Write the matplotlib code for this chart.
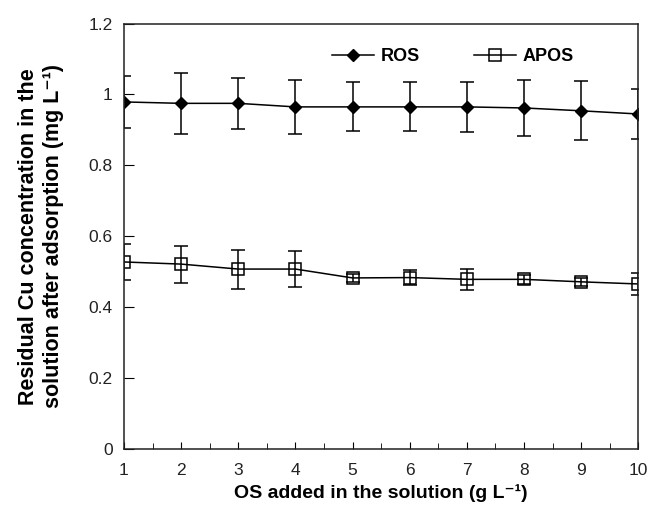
import matplotlib.pyplot as plt
from matplotlib.lines import Line2D
from matplotlib.ticker import MultipleLocator

plt.rcParams['font.family'] = ['Liberation Sans', 'DejaVu Sans']

# data
os_dose = [1, 2, 3, 4, 5, 6, 7, 8, 9, 10]
ros = [0.979, 0.975, 0.975, 0.965, 0.965, 0.965, 0.965, 0.962, 0.954, 0.945]
ros_err = [0.073, 0.085, 0.072, 0.075, 0.069, 0.069, 0.071, 0.080, 0.083, 0.070]
apos = [0.528, 0.522, 0.508, 0.508, 0.483, 0.484, 0.479, 0.479, 0.472, 0.466]
apos_err = [0.050, 0.052, 0.055, 0.050, 0.012, 0.022, 0.030, 0.012, 0.012, 0.030]
y_ticks = [0, 0.2, 0.4, 0.6, 0.8, 1, 1.2]
y_tick_labels = ['0', '0.2', '0.4', '0.6', '0.8', '1', '1.2']

fig = plt.figure(figsize=(6.49, 5.11), dpi=100)
ax = fig.add_axes([0.191, 0.1207, 0.9835 - 0.191, 0.954 - 0.1207])

ros_style = dict(color='black', marker='D', markersize=6.5, linewidth=1.1)
apos_style = dict(color='black', marker='s', markersize=8, markerfacecolor='none',
                  markeredgewidth=1.1, linewidth=1.1)

ax.errorbar(os_dose, ros, yerr=ros_err, elinewidth=1.1, capsize=5, capthick=1.1, **ros_style)
ax.errorbar(os_dose, apos, yerr=apos_err, elinewidth=1.1, capsize=5, capthick=1.1, **apos_style)

ax.set_xlim(1, 10)
ax.set_ylim(0, 1.2)
ax.set_xticks(os_dose)
ax.xaxis.set_minor_locator(MultipleLocator(0.5))
ax.set_yticks(y_ticks)
ax.set_yticklabels(y_tick_labels)
ax.tick_params(axis='both', which='both', direction='in', labelsize=12.5,
               labelcolor='#222222', top=False, right=False)
ax.tick_params(axis='x', which='major', length=5, pad=10)
ax.tick_params(axis='x', which='minor', length=4.5)
ax.tick_params(axis='y', which='major', length=7, pad=8)
for sp in ax.spines.values():
    sp.set_linewidth(1.1)
    sp.set_color('#222222')

ax.set_xlabel('OS added in the solution (g L⁻¹)', fontsize=14,
              fontweight='bold', labelpad=4)
ax.set_ylabel('Residual Cu concentration in the\nsolution after adsorption (mg L⁻¹)',
              fontsize=15.5, fontweight='bold', labelpad=18, linespacing=1.2)

handles = [Line2D([], [], **ros_style), Line2D([], [], **apos_style)]
ax.legend(handles, ['ROS', 'APOS'], loc='upper center', bbox_to_anchor=(0.64, 0.98),
          ncol=2, frameon=False, prop={'weight': 'bold', 'size': 13},
          handlelength=2.3, columnspacing=3.0, handletextpad=0.4)

fig.savefig('out.png', dpi=100)
